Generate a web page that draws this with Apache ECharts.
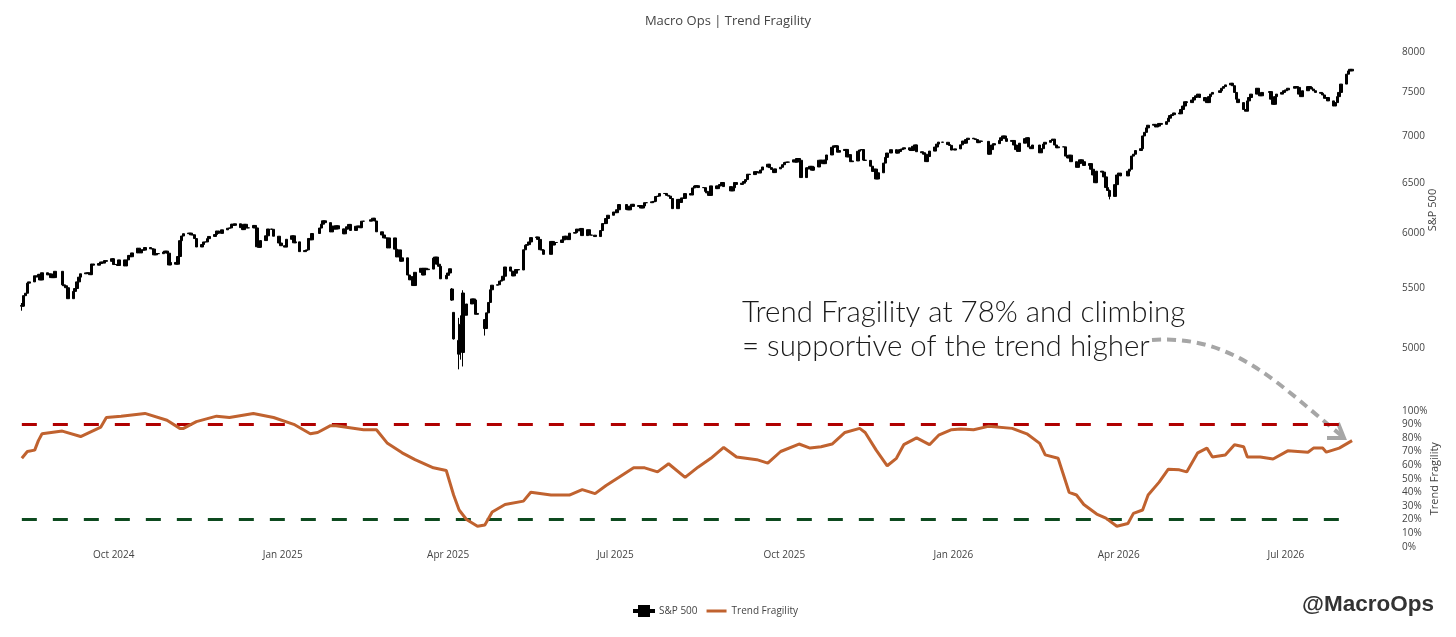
<!DOCTYPE html>
<html><head><meta charset="utf-8">
<script src="https://cdn.jsdelivr.net/npm/echarts@6/dist/echarts.min.js"></script>
<style>html,body{margin:0;padding:0;background:#fff}#c{width:1456px;height:637px}</style>
</head><body><div id="c"></div>
<script>
// ---------------- DATA ----------------
// S&P 500 daily closes, [day, close] per month
const spx_2024_08 = [[12,5344],[13,5434],[14,5455],[15,5543],[16,5554],[19,5608],[20,5597],[21,5621],[22,5571],[23,5635],[26,5616],[27,5625],[28,5592],[29,5592],[30,5648]];
const spx_2024_09 = [[3,5528],[4,5520],[5,5503],[6,5408],[9,5471],[10,5496],[11,5554],[12,5596],[13,5626],[16,5634],[17,5634],[18,5618],[19,5714],[20,5703],[23,5718],[24,5732],[25,5722],[26,5745],[27,5738],[30,5762]];
const spx_2024_10 = [[1,5709],[2,5710],[3,5700],[4,5751],[7,5696],[8,5751],[9,5792],[10,5780],[11,5815],[14,5859],[15,5815],[16,5843],[17,5841],[18,5865],[21,5853],[22,5851],[23,5797],[24,5809],[25,5808],[28,5823],[29,5832],[30,5813],[31,5705]];
const spx_2024_11 = [[1,5728],[4,5712],[5,5782],[6,5929],[7,5973],[8,5995],[11,6001],[12,5984],[13,5985],[14,5949],[15,5870],[18,5893],[19,5917],[20,5917],[21,5948],[22,5969],[25,5987],[26,6021],[27,5998],[29,6032]];
const spx_2024_12 = [[2,6047],[3,6050],[4,6086],[5,6075],[6,6090],[9,6053],[10,6034],[11,6085],[12,6051],[13,6051],[16,6074],[17,6050],[18,5872],[19,5867],[20,5930],[23,5975],[24,6040],[26,6037],[27,5971],[30,5907],[31,5882]];
const spx_2025_01 = [[2,5869],[3,5942],[6,5975],[7,5909],[8,5918],[10,5827],[13,5837],[14,5843],[15,5950],[16,5937],[17,5997],[21,6049],[22,6086],[23,6119],[24,6101],[27,6012],[28,6067],[29,6039],[30,6071],[31,6041]];
const spx_2025_02 = [[3,5994],[4,6038],[5,6061],[6,6084],[7,6026],[10,6066],[11,6068],[12,6052],[13,6115],[14,6115],[18,6129],[19,6144],[20,6117],[21,6013],[24,5983],[25,5955],[26,5956],[27,5861],[28,5955]];
const spx_2025_03 = [[3,5850],[4,5778],[5,5843],[6,5739],[7,5770],[10,5615],[11,5572],[12,5599],[13,5522],[14,5639],[17,5675],[18,5615],[19,5675],[20,5663],[21,5668],[24,5767],[25,5777],[26,5712],[27,5693],[28,5581],[31,5612]];
const spx_2025_04 = [[1,5633],[2,5671],[3,5396],[4,5074],[7,5062],[8,4982],[9,5457],[10,5268],[11,5363],[14,5406],[15,5397],[16,5276],[17,5283],[21,5158],[22,5288],[23,5376],[24,5485],[25,5525],[28,5529],[29,5561],[30,5569]];
const spx_2025_05 = [[1,5604],[2,5687],[5,5650],[6,5607],[7,5631],[8,5664],[9,5660],[12,5844],[13,5886],[14,5892],[15,5917],[16,5958],[19,5964],[20,5941],[21,5845],[22,5842],[23,5802],[27,5922],[28,5889],[29,5912],[30,5912]];
const spx_2025_06 = [[2,5936],[3,5970],[4,5971],[5,5939],[6,6000],[9,6006],[10,6039],[11,6022],[12,6045],[13,5977],[16,6033],[17,5982],[18,5981],[20,5968],[23,6025],[24,6092],[25,6092],[26,6141],[27,6173],[30,6205]];
const spx_2025_07 = [[1,6198],[2,6227],[3,6279],[7,6230],[8,6226],[9,6263],[10,6281],[11,6260],[14,6269],[15,6244],[16,6264],[17,6297],[18,6297],[21,6306],[22,6310],[23,6359],[24,6363],[25,6389],[28,6390],[29,6371],[30,6363],[31,6339]];
const spx_2025_08 = [[1,6238],[4,6330],[5,6299],[6,6345],[7,6340],[8,6389],[11,6374],[12,6446],[13,6466],[14,6469],[15,6450],[18,6449],[19,6411],[20,6396],[21,6370],[22,6467],[25,6439],[26,6466],[27,6481],[28,6502],[29,6460]];
const spx_2025_09 = [[2,6416],[3,6448],[4,6502],[5,6482],[8,6495],[9,6512],[10,6532],[11,6588],[12,6584],[15,6615],[16,6606],[17,6600],[18,6632],[19,6664],[22,6693],[23,6657],[24,6638],[25,6605],[26,6644],[29,6661],[30,6688]];
const spx_2025_10 = [[1,6711],[2,6715],[3,6716],[6,6740],[7,6715],[8,6754],[9,6735],[10,6553],[13,6655],[14,6644],[15,6671],[16,6630],[17,6664],[20,6735],[21,6735],[22,6699],[23,6738],[24,6792],[27,6875],[28,6891],[29,6891],[30,6822],[31,6840]];
const spx_2025_11 = [[3,6852],[4,6771],[5,6796],[6,6720],[7,6728],[10,6832],[11,6846],[12,6851],[13,6737],[14,6734],[17,6672],[18,6617],[19,6642],[20,6538],[21,6603],[24,6705],[25,6766],[26,6813],[28,6849]];
const spx_2025_12 = [[1,6812],[2,6829],[3,6850],[4,6857],[5,6870],[8,6846],[9,6840],[10,6886],[11,6901],[12,6827],[15,6816],[16,6800],[17,6721],[18,6775],[19,6834],[22,6878],[23,6910],[24,6932],[26,6930],[29,6905],[30,6896],[31,6845]];
const spx_2026_01 = [[2,6858],[5,6902],[6,6944],[7,6920],[8,6960],[9,6975],[12,6968],[13,6960],[14,6926],[15,6944],[16,6940],[20,6800],[21,6850],[22,6900],[23,6915],[26,6950],[27,6980],[28,7000],[29,6970],[30,6940]];
const spx_2026_02 = [[2,6950],[3,6900],[4,6850],[5,6830],[6,6920],[9,6970],[10,6980],[11,6880],[12,6860],[13,6900],[17,6815],[18,6860],[19,6910],[20,6930],[23,6950],[24,6965],[25,6900],[26,6870],[27,6880]];
const spx_2026_03 = [[2,6880],[3,6780],[4,6760],[5,6790],[6,6720],[9,6660],[10,6700],[11,6740],[12,6720],[13,6680],[16,6700],[17,6640],[18,6580],[19,6500],[20,6620],[23,6610],[24,6560],[25,6450],[26,6420],[27,6360],[30,6480],[31,6580]];
const spx_2026_04 = [[1,6600],[2,6570],[6,6620],[7,6640],[8,6780],[9,6800],[10,6840],[13,6860],[14,7000],[15,7040],[16,7090],[17,7120],[20,7130],[21,7100],[22,7110],[23,7140],[24,7130],[27,7160],[28,7200],[29,7230],[30,7240]];
const spx_2026_05 = [[1,7260],[4,7250],[5,7300],[6,7340],[7,7390],[8,7380],[11,7410],[12,7440],[13,7460],[14,7480],[15,7440],[18,7400],[19,7380],[20,7450],[21,7480],[22,7500],[26,7520],[27,7550],[28,7570],[29,7590]];
const spx_2026_06 = [[1,7610],[2,7580],[3,7500],[4,7420],[5,7380],[8,7300],[9,7280],[10,7400],[11,7440],[12,7480],[15,7550],[16,7480],[17,7460],[18,7500],[22,7510],[23,7420],[24,7360],[25,7450],[26,7480],[29,7500],[30,7520]];
const spx_2026_07 = [[1,7530],[2,7550],[6,7570],[7,7560],[8,7480],[9,7450],[10,7520],[13,7570],[14,7560],[15,7540],[16,7520],[17,7500],[20,7490],[21,7470],[22,7430],[23,7440],[24,7400],[27,7340],[28,7380],[29,7450],[30,7500],[31,7600]];
const spx_2026_08 = [[3,7720],[4,7760],[5,7780],[6,7760]];

const spxMonths = [
  ['2024-08', spx_2024_08], ['2024-09', spx_2024_09], ['2024-10', spx_2024_10], ['2024-11', spx_2024_11], ['2024-12', spx_2024_12],
  ['2025-01', spx_2025_01], ['2025-02', spx_2025_02], ['2025-03', spx_2025_03], ['2025-04', spx_2025_04], ['2025-05', spx_2025_05],
  ['2025-06', spx_2025_06], ['2025-07', spx_2025_07], ['2025-08', spx_2025_08], ['2025-09', spx_2025_09], ['2025-10', spx_2025_10],
  ['2025-11', spx_2025_11], ['2025-12', spx_2025_12], ['2026-01', spx_2026_01], ['2026-02', spx_2026_02], ['2026-03', spx_2026_03],
  ['2026-04', spx_2026_04], ['2026-05', spx_2026_05], ['2026-06', spx_2026_06], ['2026-07', spx_2026_07], ['2026-08', spx_2026_08]
];
// days with explicit [open, low, high]
const spxOverrides = {
  '2024-08-12': [5351, 5306, 5371],
  '2025-04-03': [5492, 5390, 5500],
  '2025-04-04': [5292, 5069, 5292],
  '2025-04-07': [4953, 4835, 5246],
  '2025-04-08': [5193, 4910, 5267],
  '2025-04-09': [4966, 4857, 5481],
  '2025-04-10': [5353, 5115, 5353],
  '2025-04-21': [5232, 5101, 5232],
  '2026-03-27': [6420, 6330, 6430]
};

// Trend Fragility readings (0..1)
const tfDates = ['2024-08-12','2024-08-15','2024-08-19','2024-08-21','2024-08-23','2024-09-03','2024-09-13','2024-09-24','2024-09-27','2024-10-05','2024-10-18','2024-10-30','2024-11-06','2024-11-08','2024-11-15','2024-11-26','2024-12-03','2024-12-16','2024-12-27',
  '2025-01-07','2025-01-16','2025-01-20','2025-01-27','2025-01-30','2025-02-14','2025-02-21','2025-02-27','2025-03-07','2025-03-14','2025-03-24','2025-03-31','2025-04-04','2025-04-07','2025-04-11','2025-04-17','2025-04-21','2025-04-25','2025-05-02','2025-05-12','2025-05-16','2025-05-27','2025-06-06','2025-06-13','2025-06-20','2025-06-26','2025-07-03','2025-07-11','2025-07-17','2025-07-24','2025-07-30','2025-08-08','2025-08-15','2025-08-22','2025-08-29','2025-09-05','2025-09-16','2025-09-22','2025-09-29','2025-10-09','2025-10-15','2025-10-21','2025-10-27','2025-11-03','2025-11-11','2025-11-14','2025-11-20','2025-11-26','2025-12-01','2025-12-05','2025-12-12','2025-12-19','2025-12-24','2025-12-31',
  '2026-01-05','2026-01-12','2026-01-20','2026-02-02','2026-02-10','2026-02-17','2026-02-20','2026-02-27','2026-03-05','2026-03-09','2026-03-13','2026-03-20','2026-03-25','2026-03-31','2026-04-06','2026-04-09','2026-04-14','2026-04-17','2026-04-23','2026-04-28','2026-05-04','2026-05-08','2026-05-14','2026-05-19','2026-05-22','2026-05-29','2026-06-03','2026-06-08','2026-06-10','2026-06-17','2026-06-24','2026-07-02','2026-07-13','2026-07-16','2026-07-21','2026-07-23','2026-07-30','2026-08-06'];
const tfValues = [0.65,0.70,0.71,0.78,0.83,0.85,0.81,0.88,0.95,0.96,0.98,0.93,0.87,0.87,0.92,0.96,0.95,0.98,0.95,
  0.90,0.83,0.84,0.89,0.89,0.86,0.86,0.76,0.69,0.64,0.58,0.56,0.38,0.27,0.20,0.15,0.16,0.255,0.31,0.335,0.40,0.38,0.38,0.42,0.39,0.45,0.51,0.58,0.58,0.55,0.61,0.51,0.585,0.65,0.73,0.66,0.64,0.615,0.70,0.755,0.725,0.735,0.755,0.84,0.87,0.84,0.71,0.595,0.65,0.75,0.80,0.75,0.82,0.86,
  0.865,0.86,0.885,0.87,0.83,0.76,0.675,0.65,0.40,0.38,0.31,0.24,0.21,0.15,0.17,0.245,0.27,0.38,0.475,0.57,0.565,0.55,0.69,0.725,0.66,0.675,0.75,0.735,0.66,0.66,0.645,0.705,0.695,0.725,0.725,0.695,0.725,0.78];

const upperBand = 0.9;
const lowerBand = 0.2;
const priceTicks = [5000, 5500, 6000, 6500, 7000, 7500, 8000];
const xTickDates = ['2024-10-01','2025-01-01','2025-04-01','2025-07-01','2025-10-01','2026-01-01','2026-04-01','2026-07-01'];
const monthNames = ['Jan','Feb','Mar','Apr','May','Jun','Jul','Aug','Sep','Oct','Nov','Dec'];
const xRange = ['2024-08-11', '2026-08-31'];
const priceRange = [4754, 8150];

// ---------------- BUILD ----------------
const lg = v => Math.log10(v);
const ts = s => Date.parse(s + 'T00:00:00Z');
const candles = [];
let prev = null;
spxMonths.forEach(([ym, arr]) => arr.forEach(([d, c]) => {
  const date = ym + '-' + String(d).padStart(2, '0');
  const ov = spxOverrides[date];
  const o = ov ? ov[0] : (prev === null ? c : prev);
  const lo = ov ? Math.min(ov[1], o, c) : Math.min(o, c);
  const hi = ov ? Math.max(ov[2], o, c) : Math.max(o, c);
  candles.push([ts(date), lg(o), lg(c), lg(lo), lg(hi)]);
  prev = c;
}));
const tfData = tfDates.map((d, i) => [ts(d), tfValues[i]]);
const firstX = candles[0][0];
const lastX = candles[candles.length - 1][0];

const chart = echarts.init(document.getElementById('c'));
const axisTxt = { color: '#444', fontSize: 10, fontFamily: 'Open Sans' };
chart.setOption({
  animation: false,
  textStyle: { fontFamily: 'Open Sans' },
  title: { text: 'Macro Ops | Trend Fragility', left: 'center', top: 10,
    textStyle: { fontSize: 13, fontWeight: 'normal', color: '#444', fontFamily: 'Open Sans' } },
  legend: {
    top: 600, left: 628, itemWidth: 20, itemHeight: 10, itemGap: 9,
    textStyle: { fontSize: 10, color: '#444', fontFamily: 'Open Sans' },
    data: [
      { name: 'S&P 500', icon: 'path://M0,4h5v2h-5z M5,0h10v10h-10z M15,4h5v2h-5z' },
      { name: 'Trend Fragility', icon: 'path://M0,3.5h20v3h-20z' }
    ]
  },
  grid: [
    { left: 20, right: 58, top: 40, height: 340 },
    { left: 20, right: 58, top: 410.7, height: 136 }
  ],
  xAxis: [
    { type: 'value', gridIndex: 0, min: ts(xRange[0]), max: ts(xRange[1]), show: false },
    { type: 'value', gridIndex: 1, min: ts(xRange[0]), max: ts(xRange[1]),
      axisLine: { show: false }, axisTick: { show: false }, splitLine: { show: false },
      axisLabel: Object.assign({}, axisTxt, { margin: 3, customValues: xTickDates.map(ts),
        formatter: v => { const d = new Date(v); return monthNames[d.getUTCMonth()] + ' ' + d.getUTCFullYear(); } }) }
  ],
  yAxis: [
    { type: 'value', gridIndex: 0, position: 'right', min: lg(priceRange[0]), max: lg(priceRange[1]),
      axisLine: { show: false }, axisTick: { show: false }, splitLine: { show: false },
      axisLabel: Object.assign({}, axisTxt, { margin: 4, customValues: priceTicks.map(lg),
        formatter: v => String(Math.round(Math.pow(10, v))) }),
      name: 'S&P 500', nameLocation: 'middle', nameRotate: 90, nameGap: 29, nameMoveOverlap: false,
      nameTextStyle: { fontSize: 11, color: '#444' } },
    { type: 'value', gridIndex: 1, position: 'right', min: 0, max: 1, interval: 0.1,
      axisLine: { show: false }, axisTick: { show: false }, splitLine: { show: false },
      axisLabel: Object.assign({}, axisTxt, { margin: 4, formatter: v => Math.round(v * 100) + '%' }),
      name: 'Trend Fragility', nameLocation: 'middle', nameRotate: 90, nameGap: 31, nameMoveOverlap: false,
      nameTextStyle: { fontSize: 11, color: '#444' } }
  ],
  series: [
    { type: 'candlestick', name: 'S&P 500', xAxisIndex: 0, yAxisIndex: 0, data: candles,
      encode: { x: 0, y: [1, 2, 3, 4] }, barWidth: 3, large: false,
      itemStyle: { color: '#000', color0: '#000', borderColor: '#000', borderColor0: '#000', borderWidth: 1 } },
    { type: 'line', name: 'Trend Fragility', xAxisIndex: 1, yAxisIndex: 1, data: tfData,
      symbol: 'none', lineStyle: { color: '#c0622f', width: 3 }, itemStyle: { color: '#c0622f' }, z: 3,
      markLine: { silent: true, symbol: ['none', 'none'], label: { show: false }, z: 2,
        lineStyle: { type: [15, 16], width: 3 },
        data: [
          [{ coord: [firstX, upperBand], lineStyle: { color: '#b00000', type: [15, 16], width: 3 } }, { coord: [lastX, upperBand] }],
          [{ coord: [firstX, lowerBand], lineStyle: { color: '#0d4a1f', type: [15, 16], width: 3 } }, { coord: [lastX, lowerBand] }]
        ] } }
  ],
  graphic: [
    { type: 'text', x: 742, y: 312, style: { text: 'Trend Fragility at 78% and climbing', font: '300 29.5px Lato', fill: '#1a1a1a', verticalAlign: 'middle' } },
    { type: 'text', x: 742, y: 346, style: { text: '= supportive of the trend higher', font: '300 29.5px Lato', fill: '#1a1a1a', verticalAlign: 'middle' } },
    { type: 'bezierCurve', shape: { x1: 1152, y1: 340, cpx1: 1235, cpy1: 334, cpx2: 1280, cpy2: 386, x2: 1342, y2: 436 },
      style: { stroke: '#a6a6a6', lineWidth: 4, lineDash: [9, 6], fill: null } },
    { type: 'polyline', shape: { points: [[1327, 438], [1344, 438], [1338, 423]] },
      style: { stroke: '#a6a6a6', lineWidth: 4, fill: null } },
    { type: 'text', x: 1434, y: 605, style: { text: '@MacroOps', font: 'bold 22.5px "Liberation Sans", Arial', fill: '#333', align: 'right', verticalAlign: 'middle' } }
  ]
});
</script></body></html>
